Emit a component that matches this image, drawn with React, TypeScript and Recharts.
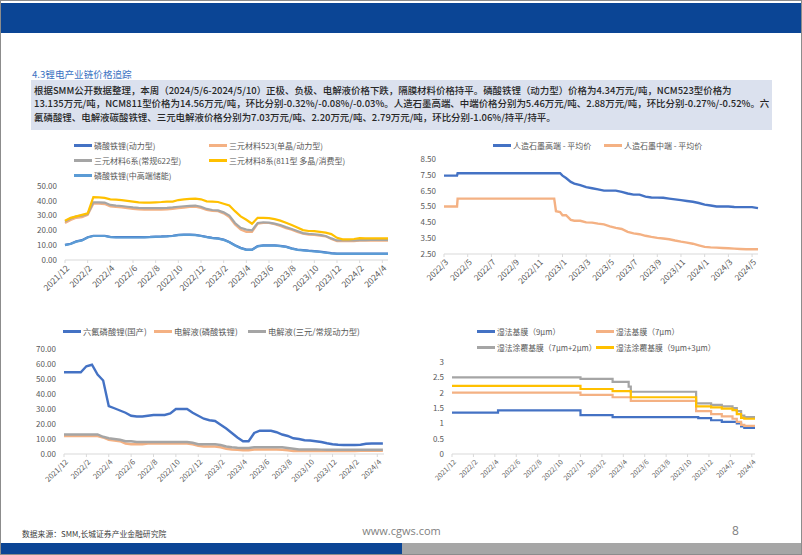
import React from 'react';
import { LineChart, Line, XAxis, YAxis, Legend } from 'recharts';

// month offsets from 2021/12 (charts 1 and 3)
const months1 = [
  0, 0.5, 1, 1.5, 2, 2.5, 3, 3.5, 4, 4.5, 5, 5.5, 6, 6.5, 7, 7.5, 8, 8.5, 9, 9.5,
  10, 10.5, 11, 11.5, 12, 12.5, 13, 13.5, 14, 14.5, 15, 15.5, 16, 16.5, 17, 17.5, 18, 18.5, 19, 19.5,
  20, 20.5, 21, 21.5, 22, 22.5, 23, 23.5, 24, 24.5, 25, 25.5, 26, 26.5, 27, 27.5, 28, 28.5,
];
const tickPos1 = [0, 2, 4, 6, 8, 10, 12, 14, 16, 18, 20, 22, 24, 26, 28];
const tickLabels1 = [
  '2021/12', '2022/2', '2022/4', '2022/6', '2022/8', '2022/10', '2022/12',
  '2023/2', '2023/4', '2023/6', '2023/8', '2023/10', '2023/12', '2024/2', '2024/4',
];

// chart 1: cathode materials (万元/吨)
const lfpPower = [
  10.2, 11.0, 12.6, 13.4, 15.4, 16.4, 16.4, 16.4, 15.6, 15.4,
  15.4, 15.4, 15.4, 15.4, 15.5, 15.6, 15.8, 15.9, 16.1, 16.4,
  17.0, 17.2, 17.2, 17.0, 16.4, 15.6, 15.0, 14.6, 13.8, 12.2,
  10.0, 8.2, 7.0, 7.0, 9.4, 9.9, 9.9, 9.9, 9.6, 9.0,
  7.9, 7.1, 6.7, 6.3, 6.0, 5.6, 5.1, 4.6, 4.4, 4.4,
  4.4, 4.4, 4.4, 4.4, 4.4, 4.4, 4.35, 4.34,
];
const ncm523 = [
  25.0, 27.0, 28.5, 29.0, 30.5, 38.0, 38.0, 37.8, 36.2, 35.8,
  35.5, 35.0, 34.5, 34.2, 34.0, 34.0, 34.0, 34.0, 34.2, 34.5,
  35.0, 35.4, 35.8, 36.0, 35.2, 33.8, 33.2, 33.0, 31.5, 29.0,
  24.0, 20.5, 19.0, 19.0, 24.5, 25.0, 25.0, 24.2, 23.0, 21.5,
  20.5, 19.0, 17.8, 17.2, 17.0, 16.5, 16.0, 14.2, 12.8, 12.8,
  12.8, 12.8, 13.0, 13.0, 13.1, 13.1, 13.1, 13.1,
];
const ncm622 = [
  26.0, 28.0, 29.5, 30.0, 31.0, 39.0, 39.0, 38.8, 37.2, 36.8,
  36.5, 36.0, 35.5, 35.2, 35.0, 35.0, 35.0, 35.0, 35.2, 35.5,
  36.0, 36.3, 36.6, 36.8, 36.0, 34.5, 33.8, 33.5, 32.2, 30.0,
  25.0, 21.8, 20.5, 20.0, 25.0, 25.5, 25.2, 24.6, 23.6, 22.2,
  21.0, 19.6, 18.2, 17.6, 17.4, 17.0, 16.2, 14.6, 13.2, 13.2,
  13.2, 13.2, 13.4, 13.4, 13.5, 13.5, 13.5, 13.5,
];
const ncm811 = [
  26.5, 28.5, 29.5, 30.5, 31.5, 42.5, 42.3, 42.0, 41.0, 40.8,
  40.5, 40.0, 39.5, 39.0, 38.8, 38.8, 39.0, 39.2, 39.5, 39.5,
  40.5, 41.0, 41.3, 41.5, 41.0, 39.6, 39.4, 39.2, 38.0, 36.8,
  33.0, 29.5, 27.2, 24.5, 28.5, 28.5, 28.3, 27.6, 26.6, 25.2,
  23.6, 22.0, 20.2, 19.6, 19.5, 19.0, 18.5, 17.5, 15.0, 14.0,
  14.0, 14.2, 14.8, 14.6, 14.6, 14.6, 14.6, 14.6,
];
const lfpStorage = [
  10.0, 10.8, 12.4, 13.2, 15.2, 16.2, 16.2, 16.2, 15.4, 15.2,
  15.2, 15.2, 15.2, 15.2, 15.3, 15.4, 15.6, 15.7, 15.9, 16.2,
  16.8, 17.0, 17.0, 16.8, 16.2, 15.4, 14.8, 14.4, 13.6, 12.0,
  9.8, 8.0, 6.8, 6.8, 9.2, 9.7, 9.7, 9.7, 9.4, 8.8,
  7.7, 6.9, 6.5, 6.1, 5.8, 5.4, 4.9, 4.4, 4.2, 4.2,
  4.2, 4.2, 4.2, 4.2, 4.2, 4.2, 4.2, 4.2,
];

// chart 2: graphite anode, month offsets from 2022/3
const months2 = [
  0, 1.1, 1.15, 9.3, 9.45, 9.8, 10, 10.3, 10.7, 11,
  11.5, 12, 12.5, 13, 13.5, 14, 14.5, 15, 15.5, 16,
  16.5, 17, 17.5, 18, 18.5, 19, 19.5, 20, 20.5, 21,
  21.5, 22, 22.5, 23, 23.5, 24, 24.5, 25, 25.5, 26, 26.5,
];
const tickPos2 = [0, 2, 4, 6, 8, 10, 12, 14, 16, 18, 20, 22, 24, 26];
const tickLabels2 = [
  '2022/3', '2022/5', '2022/7', '2022/9', '2022/11', '2023/1', '2023/3',
  '2023/5', '2023/7', '2023/9', '2023/11', '2024/1', '2024/3', '2024/5',
];
const graphiteHigh = [
  7.45, 7.45, 7.6, 7.6, 7.6, 7.6, 7.45, 7.3, 7.05, 6.95,
  6.85, 6.72, 6.65, 6.58, 6.5, 6.5, 6.5, 6.42, 6.32, 6.25,
  6.25, 6.12, 6.07, 6.06, 6.05, 6.0, 5.95, 5.9, 5.85, 5.8,
  5.72, 5.62, 5.56, 5.5, 5.5, 5.5, 5.47, 5.46, 5.46, 5.46, 5.4,
];
const graphiteMid = [
  5.5, 5.5, 6.0, 6.0, 5.2, 5.15, 4.95, 4.95, 4.65, 4.6,
  4.6, 4.5, 4.48, 4.42, 4.37, 4.25, 4.15, 4.08, 3.9, 3.8,
  3.75, 3.65, 3.58, 3.52, 3.48, 3.43, 3.35, 3.28, 3.22, 3.15,
  3.05, 2.95, 2.92, 2.9, 2.88, 2.86, 2.84, 2.82, 2.8, 2.8, 2.8,
];

// chart 3: electrolyte
const lipf6 = [
  54.5, 54.5, 54.5, 54.5, 58.5, 59.5, 53.0, 49.0, 32.0, 30.5,
  29.0, 27.5, 25.5, 25.0, 25.0, 25.5, 26.0, 26.0, 26.0, 27.0,
  30.0, 30.0, 30.0, 27.5, 25.5, 23.5, 22.5, 22.0, 19.5, 17.0,
  14.0, 11.0, 8.5, 8.5, 14.0, 15.5, 15.5, 15.5, 14.5, 13.0,
  12.0, 10.5, 10.0, 9.2, 9.0, 8.5, 8.0, 7.2, 6.5, 6.2,
  6.0, 6.0, 6.0, 6.2, 6.8, 7.0, 7.0, 7.03,
];
const elecLfp = [
  12, 12, 12, 12, 12, 12, 12, 11.0, 9.5, 9.0,
  8.5, 7.0, 6.5, 6.5, 6.5, 7.0, 7.0, 7.0, 7.0, 7.0,
  7.0, 7.0, 7.0, 6.5, 5.5, 5.0, 5.0, 5.0, 4.5, 3.5,
  3.0, 2.8, 2.5, 2.5, 3.0, 3.0, 3.0, 3.0, 3.0, 2.8,
  2.5, 2.0, 2.0, 2.0, 2.0, 2.0, 2.0, 2.0, 2.0, 2.0,
  2.0, 2.0, 2.0, 2.2, 2.2, 2.2, 2.2, 2.2,
];
const elecNcm = [
  13, 13, 13, 13, 13, 13, 13, 11.5, 10.5, 10.0,
  9.5, 8.5, 8.5, 8.0, 8.0, 8.0, 8.0, 8.0, 8.0, 8.0,
  8.0, 8.0, 8.0, 7.5, 6.5, 6.5, 6.5, 6.5, 6.0, 5.0,
  4.5, 4.2, 4.0, 4.0, 4.5, 4.5, 4.5, 4.5, 4.5, 4.5,
  4.0, 3.5, 3.0, 3.0, 3.0, 3.0, 2.9, 2.8, 2.8, 2.8,
  2.8, 2.8, 2.8, 2.8, 2.8, 2.8, 2.8, 2.8,
];

// chart 4: separator (元/平方米), price change points
const months4 = [0, 4.3, 12, 15, 16.5, 16.7, 22.8, 23, 24.2, 25.2, 26.2, 26.6, 27, 27.3, 28.3];
const sep9 = [1.35, 1.42, 1.27, 1.2, 1.2, 1.2, 1.2, 1.17, 1.1, 1.05, 1.05, 1.0, 0.9, 0.85, 0.85];
const sep7 = [2.0, 2.0, 1.93, 1.85, 1.85, 1.73, 1.4, 1.4, 1.3, 1.23, 1.15, 1.05, 0.95, 0.92, 0.92];
const coat72 = [2.5, 2.5, 2.45, 2.35, 2.2, 2.03, 1.65, 1.65, 1.6, 1.55, 1.5, 1.4, 1.25, 1.2, 1.2];
const coat93 = [2.22, 2.22, 2.12, 2.05, 2.05, 1.85, 1.55, 1.55, 1.52, 1.48, 1.43, 1.3, 1.18, 1.15, 1.15];

const summaryLines = [
  '根据SMM公开数据整理，本周（2024/5/6-2024/5/10）正极、负极、电解液价格下跌，隔膜材料价格持平。磷酸铁锂（动力型）价格为4.34万元/吨，NCM523型价格为',
  '13.135万元/吨，NCM811型价格为14.56万元/吨，环比分别-0.32%/-0.08%/-0.03%。人造石墨高端、中端价格分别为5.46万元/吨、2.88万元/吨，环比分别-0.27%/-0.52%。六',
  '氟磷酸锂、电解液碳酸铁锂、三元电解液价格分别为7.03万元/吨、2.20万元/吨、2.79万元/吨，环比分别-1.06%/持平/持平。',
];

const FONT = '"Noto Sans CJK SC", "Noto Sans", sans-serif';
const GREY = '#595959';
const BLUE = '#4472c4';
const ORANGE = '#f4b183';
const SILVER = '#a5a5a5';
const GOLD = '#ffc000';
const SKY = '#5b9bd5';

type Item = { key: string; name: string; color: string };

const zip = (t: number[], cols: Record<string, number[]>) =>
  t.map((m, i) => {
    const row: Record<string, number> = { t: m };
    Object.keys(cols).forEach(k => (row[k] = cols[k][i]));
    return row;
  });

function SlantTick(props: any) {
  const { x, y, payload, positions, labels, size } = props;
  const label = labels[positions.indexOf(payload.value)] ?? '';
  const px = x + 3;
  const py = y + 2;
  return (
    <text
      x={px}
      y={py}
      dy="0.3em"
      transform={`rotate(-45 ${px} ${py})`}
      textAnchor="end"
      fontSize={size}
      fill={GREY}
      fontFamily={FONT}
    >
      {label}
    </text>
  );
}

function LegendGrid({ items, columns, rowHeight, size }: { items: Item[]; columns: string; rowHeight: number; size: number }) {
  return (
    <div style={{ display: 'grid', gridTemplateColumns: columns, fontFamily: FONT }}>
      {items.map(it => (
        <div key={it.key} style={{ display: 'flex', alignItems: 'center', height: rowHeight }}>
          <span style={{ width: 18, height: 3, background: it.color, marginRight: 2, flex: 'none' }} />
          <span style={{ fontSize: size, color: GREY, whiteSpace: 'nowrap' }}>{it.name}</span>
        </div>
      ))}
    </div>
  );
}

interface PanelProps {
  left: number;
  top: number;
  width: number;
  height: number;
  data: Record<string, number>[];
  items: Item[];
  margin: { top: number; right: number; left: number; bottom: number };
  yWidth: number;
  yDomain: [number, number];
  yTicks: number[];
  yFormat: (v: number) => string;
  xDomain: [number, number];
  xTicks: number[];
  xLabels: string[];
  xHeight: number;
  xFont: number;
  lineType: 'linear' | 'stepAfter';
  strokeWidth: number;
  legendStyle: React.CSSProperties;
  legendColumns: string;
  legendRow: number;
  legendFont: number;
}

function Panel(p: PanelProps) {
  return (
    <div style={{ position: 'absolute', left: p.left, top: p.top }}>
      <LineChart width={p.width} height={p.height} data={p.data} margin={p.margin}>
        <XAxis
          type="number"
          dataKey="t"
          domain={p.xDomain}
          ticks={p.xTicks}
          interval={0}
          height={p.xHeight}
          stroke="#d9d9d9"
          tickSize={3}
          tick={<SlantTick positions={p.xTicks} labels={p.xLabels} size={p.xFont} />}
        />
        <YAxis
          width={p.yWidth}
          domain={p.yDomain}
          ticks={p.yTicks}
          interval={0}
          axisLine={false}
          tickLine={false}
          tickFormatter={p.yFormat}
          tick={{ fontSize: 8, fill: GREY, fontFamily: FONT }}
        />
        <Legend
          layout="horizontal"
          verticalAlign="middle"
          align="center"
          wrapperStyle={p.legendStyle}
          content={() => (
            <LegendGrid items={p.items} columns={p.legendColumns} rowHeight={p.legendRow} size={p.legendFont} />
          )}
        />
        {p.items.map(it => (
          <Line
            key={it.key}
            type={p.lineType}
            dataKey={it.key}
            name={it.name}
            stroke={it.color}
            strokeWidth={p.strokeWidth}
            dot={false}
            isAnimationActive={false}
          />
        ))}
      </LineChart>
    </div>
  );
}

const cathodeItems: Item[] = [
  { key: 'lfpPower', name: '磷酸铁锂(动力型)', color: BLUE },
  { key: 'ncm523', name: '三元材料523(单晶/动力型)', color: ORANGE },
  { key: 'ncm622', name: '三元材料6系(常规622型)', color: SILVER },
  { key: 'ncm811', name: '三元材料8系(811型 多晶/消费型)', color: GOLD },
  { key: 'lfpStorage', name: '磷酸铁锂(中高端储能)', color: SKY },
];
const anodeItems: Item[] = [
  { key: 'high', name: '人造石墨高端 - 平均价', color: BLUE },
  { key: 'mid', name: '人造石墨中端 - 平均价', color: ORANGE },
];
const electrolyteItems: Item[] = [
  { key: 'lipf6', name: '六氟磷酸锂(国产)', color: BLUE },
  { key: 'elecLfp', name: '电解液(磷酸铁锂)', color: ORANGE },
  { key: 'elecNcm', name: '电解液(三元/常规动力型)', color: SILVER },
];
const separatorItems: Item[] = [
  { key: 'sep9', name: '湿法基膜（9μm）', color: BLUE },
  { key: 'sep7', name: '湿法基膜（7μm）', color: ORANGE },
  { key: 'coat72', name: '湿法涂覆基膜（7μm+2μm）', color: SILVER },
  { key: 'coat93', name: '湿法涂覆基膜（9μm+3μm）', color: GOLD },
];

const fix2 = (v: number) => v.toFixed(2);
const plain = (v: number) => String(v);

export default function App() {
  const cathodeData = zip(months1, { lfpPower, ncm523, ncm622, ncm811, lfpStorage });
  const anodeData = zip(months2, { high: graphiteHigh, mid: graphiteMid });
  const electrolyteData = zip(months1, { lipf6, elecLfp, elecNcm });
  const separatorData = zip(months4, { sep9, sep7, coat72, coat93 });

  return (
    <div
      style={{
        position: 'absolute',
        left: 0,
        top: 0,
        width: 800,
        height: 553,
        border: '1px solid #8c8c8c',
        background: '#fff',
        overflow: 'hidden',
        fontFamily: FONT,
      }}
    >
      <div style={{ position: 'absolute', left: 0, top: 2, width: 800, height: 30, background: '#0b4595' }} />

      <div style={{ position: 'absolute', left: 31, top: 66, fontSize: 9.6, color: '#3a72c2', whiteSpace: 'nowrap' }}>
        4.3锂电产业链价格追踪
      </div>
      <div style={{ position: 'absolute', left: 30, top: 79, width: 741, height: 50, background: '#dbe1ee' }}>
        {summaryLines.map((line, i) => (
          <div
            key={i}
            style={{
              position: 'absolute',
              left: 3,
              top: 4 + i * 13.4,
              fontSize: 9.45,
              lineHeight: '13px',
              color: '#262626',
              fontWeight: 500,
              whiteSpace: 'nowrap',
            }}
          >
            {line}
          </div>
        ))}
      </div>

      <Panel
        left={20}
        top={135}
        width={380}
        height={165}
        data={cathodeData}
        items={cathodeItems}
        margin={{ top: 50, right: 13, left: 0, bottom: 0 }}
        yWidth={44}
        yDomain={[0, 50]}
        yTicks={[0, 10, 20, 30, 40, 50]}
        yFormat={fix2}
        xDomain={[0, 28.5]}
        xTicks={tickPos1}
        xLabels={tickLabels1}
        xHeight={41}
        xFont={8.6}
        lineType="linear"
        strokeWidth={2.2}
        legendStyle={{ left: 53, top: 2, width: 300 }}
        legendColumns="135px 165px"
        legendRow={15}
        legendFont={8}
      />

      <Panel
        left={400}
        top={135}
        width={380}
        height={165}
        data={anodeData}
        items={anodeItems}
        margin={{ top: 23, right: 23, left: 0, bottom: 0 }}
        yWidth={43}
        yDomain={[2.5, 8.5]}
        yTicks={[2.5, 3.5, 4.5, 5.5, 6.5, 7.5, 8.5]}
        yFormat={fix2}
        xDomain={[0, 26.5]}
        xTicks={tickPos2}
        xLabels={tickLabels2}
        xHeight={47}
        xFont={8.3}
        lineType="linear"
        strokeWidth={2.4}
        legendStyle={{ left: 92, top: 2, width: 260 }}
        legendColumns="111px 120px"
        legendRow={15}
        legendFont={8}
      />

      <Panel
        left={20}
        top={315}
        width={380}
        height={180}
        data={electrolyteData}
        items={electrolyteItems}
        margin={{ top: 33, right: 17, left: 0, bottom: 0 }}
        yWidth={43}
        yDomain={[0, 70]}
        yTicks={[0, 10, 20, 30, 40, 50, 60, 70]}
        yFormat={fix2}
        xDomain={[0, 28.6]}
        xTicks={tickPos1}
        xLabels={tickLabels1}
        xHeight={42}
        xFont={7.6}
        lineType="linear"
        strokeWidth={2.4}
        legendStyle={{ left: 42, top: 7, width: 320 }}
        legendColumns="91px 94px 120px"
        legendRow={16}
        legendFont={8.3}
      />

      <Panel
        left={400}
        top={315}
        width={380}
        height={180}
        data={separatorData}
        items={separatorItems}
        margin={{ top: 46, right: 26, left: 0, bottom: 0 }}
        yWidth={51}
        yDomain={[0, 3]}
        yTicks={[0, 0.5, 1, 1.5, 2, 2.5, 3]}
        yFormat={plain}
        xDomain={[0, 28.3]}
        xTicks={tickPos1}
        xLabels={tickLabels1}
        xHeight={42}
        xFont={7}
        lineType="stepAfter"
        strokeWidth={2.2}
        legendStyle={{ left: 76, top: 7, width: 260 }}
        legendColumns="119px 140px"
        legendRow={16}
        legendFont={7.8}
      />

      <div style={{ position: 'absolute', left: 21, top: 527, fontSize: 7.8, color: '#404040', whiteSpace: 'nowrap' }}>
        数据来源：SMM,长城证券产业金融研究院
      </div>
      <div
        style={{
          position: 'absolute',
          left: 300,
          width: 201,
          top: 522,
          textAlign: 'center',
          fontSize: 11,
          color: '#7f7f7f',
          fontFamily: '"Open Sans", sans-serif',
        }}
      >
        www.cgws.com
      </div>
      <div style={{ position: 'absolute', left: 731, top: 521, fontSize: 12, color: '#7f7f7f', fontFamily: '"Open Sans", sans-serif' }}>
        8
      </div>
      <div style={{ position: 'absolute', left: 0, top: 542, width: 401, height: 11, background: '#0b4595' }} />
      <div style={{ position: 'absolute', left: 401, top: 542, width: 399, height: 11, background: '#a6a6a6' }} />
    </div>
  );
}
